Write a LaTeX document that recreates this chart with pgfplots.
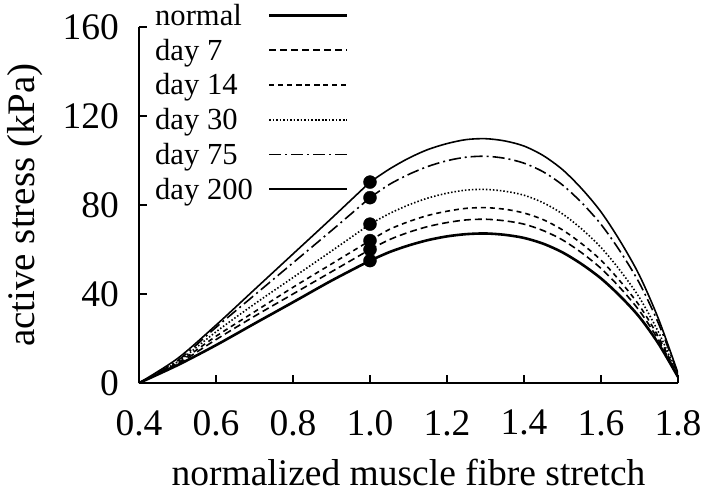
\documentclass[border=0pt]{standalone}
\usepackage{fontspec}
\setmainfont{Liberation Serif}
\usepackage{pgfplots}
\pgfplotsset{compat=1.18}
\begin{document}
\begin{tikzpicture}
\useasboundingbox (-139bp,-110bp) rectangle (564bp,383bp);
\begin{axis}[
  scale only axis, width=539bp, height=356bp,
  xmin=0.4, xmax=1.8, ymin=0, ymax=160,
  axis lines*=left,
  axis line style={line width=1.2bp},
  tick align=inside,
  major tick length=8bp,
  tick style={line width=1.2bp, black},
  xtick={0.4,0.6,...,1.8}, ytick={0,40,80,120,160},
  /pgf/number format/assume math mode=true,
  xticklabel style={/pgf/number format/fixed, /pgf/number format/fixed zerofill, /pgf/number format/precision=1},
  ticklabel style={font=\fontsize{37.5bp}{42bp}\selectfont},
  xticklabel style={anchor=north, inner sep=0pt, yshift=-27bp},
  yticklabel style={anchor=east, inner sep=0pt, xshift=-20bp},
  xlabel={normalized muscle fibre stretch},
  ylabel={active stress (kPa)},
  xlabel style={font=\fontsize{37.5bp}{42bp}\selectfont, at={(axis description cs:0.5,-0.289)}, anchor=base},
  ylabel style={font=\fontsize{39bp}{44bp}\selectfont, at={(axis description cs:-0.211,0.5)}, anchor=center},
  legend plot pos=right,
  legend cell align=left,
  legend style={draw=none, fill=none, font=\fontsize{30.6bp}{35bp}\selectfont,
    at={(axis description cs:0,1)}, anchor=north west, xshift=14bp, yshift=25bp,
    row sep=8bp, inner sep=0pt,
    nodes={inner sep=2bp},
    /tikz/every odd column/.style={column sep=13bp}},
  legend image code/.code={\draw[#1] plot coordinates {(0bp,0bp) (78bp,0bp)};},
]
% ascending limbs
\addplot[black, line width=2.6bp, smooth] coordinates {(0.4,0) (0.5,8) (0.6,17) (0.7,26.7) (0.8,36.3) (0.9,46) (1.0,55)};
\addlegendentry{normal}
\addplot[black, line width=1.6bp, dash pattern=on 7bp off 4bp, smooth] coordinates {(0.4,0) (0.5,8.5) (0.6,19.5) (0.7,30) (0.8,40) (0.9,50) (1.0,60)};
\addlegendentry{day 7}
\addplot[black, line width=1.6bp, dash pattern=on 5bp off 4bp, smooth] coordinates {(0.4,0) (0.5,9) (0.6,21) (0.7,32) (0.8,43) (0.9,53.5) (1.0,64)};
\addlegendentry{day 14}
\addplot[black, line width=1.6bp, dash pattern=on 1.5bp off 2bp, smooth] coordinates {(0.4,0) (0.5,9.5) (0.6,23) (0.7,35.5) (0.8,47.4) (0.9,59.3) (1.0,71.4)};
\addlegendentry{day 30}
\addplot[black, line width=1.6bp, dash pattern=on 12bp off 4bp on 2bp off 4bp, smooth] coordinates {(0.4,0) (0.5,10) (0.6,25) (0.7,39.5) (0.8,54) (0.9,68.5) (1.0,83.3)};
\addlegendentry{day 75}
\addplot[black, line width=1.6bp, smooth] coordinates {(0.4,0) (0.5,11) (0.6,26) (0.7,42) (0.8,58) (0.9,74) (1.0,90.3)};
\addlegendentry{day 200}
% descending limbs
\addplot[forget plot, black, line width=2.6bp, smooth] coordinates {(1.0,55) (1.05,58.8) (1.1,61.8) (1.15,64.2) (1.2,65.9) (1.25,66.9) (1.3,67.2) (1.35,66.6) (1.4,65.2) (1.45,62.6) (1.5,58.7) (1.55,53.4) (1.6,47.0) (1.65,39.0) (1.7,29.6) (1.75,17.5) (1.8,2.7)};
\addplot[forget plot, black, line width=1.6bp, dash pattern=on 7bp off 4bp, smooth] coordinates {(1.0,60) (1.05,64.4) (1.1,67.7) (1.15,70.3) (1.2,72.1) (1.25,73.3) (1.3,73.6) (1.35,72.9) (1.4,71.4) (1.45,68.5) (1.5,64.3) (1.55,58.5) (1.6,51.5) (1.65,42.7) (1.7,32.4) (1.75,19.1) (1.8,2.9)};
\addplot[forget plot, black, line width=1.6bp, dash pattern=on 5bp off 4bp, smooth] coordinates {(1.0,64) (1.05,69.0) (1.1,72.5) (1.15,75.3) (1.2,77.2) (1.25,78.5) (1.3,78.8) (1.35,78.1) (1.4,76.4) (1.45,73.4) (1.5,68.8) (1.55,62.6) (1.6,55.2) (1.65,45.7) (1.7,34.7) (1.75,20.5) (1.8,3.2)};
\addplot[forget plot, black, line width=1.6bp, dash pattern=on 1.5bp off 2bp, smooth] coordinates {(1.0,71.4) (1.05,76.1) (1.1,80.0) (1.15,83.1) (1.2,85.3) (1.25,86.7) (1.3,87.0) (1.35,86.2) (1.4,84.4) (1.45,81.0) (1.5,76.0) (1.55,69.2) (1.6,60.9) (1.65,50.5) (1.7,38.3) (1.75,22.6) (1.8,3.5)};
\addplot[forget plot, black, line width=1.6bp, dash pattern=on 12bp off 4bp on 2bp off 4bp, smooth] coordinates {(1.0,83.3) (1.05,89.2) (1.1,93.7) (1.15,97.3) (1.2,99.9) (1.25,101.5) (1.3,101.9) (1.35,101.0) (1.4,98.8) (1.45,94.9) (1.5,89.0) (1.55,81.0) (1.6,71.3) (1.65,59.1) (1.7,44.8) (1.75,26.5) (1.8,4.1)};
\addplot[forget plot, black, line width=1.6bp, smooth] coordinates {(1.0,90.3) (1.05,96.1) (1.1,101.0) (1.15,104.9) (1.2,107.6) (1.25,109.4) (1.3,109.8) (1.35,108.8) (1.4,106.5) (1.45,102.2) (1.5,95.9) (1.55,87.3) (1.6,76.9) (1.65,63.7) (1.7,48.3) (1.75,28.5) (1.8,4.4)};
% markers at stretch 1.0
\addplot[forget plot, only marks, mark=*, mark size=6.5bp, black] coordinates {(1.0,55) (1.0,60) (1.0,64) (1.0,71.4) (1.0,83.3) (1.0,90.3)};
\end{axis}
\end{tikzpicture}
\end{document}
